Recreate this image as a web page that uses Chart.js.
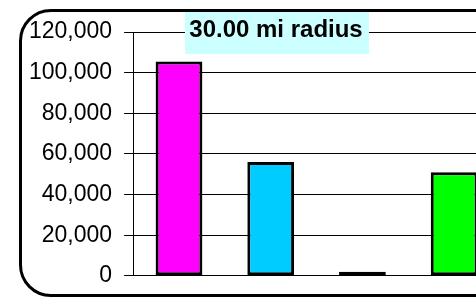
<!DOCTYPE html>
<html>
<head>
<meta charset="utf-8">
<script src="https://cdn.jsdelivr.net/npm/chart.js@4"></script>
<style>
  html, body { margin: 0; padding: 0; width: 476px; height: 297px; overflow: hidden; background: #fff; }
  #wrap { position: absolute; left: 0; top: 0; width: 540px; height: 297px; }
  #frame { position: absolute; left: 19px; top: 9px; width: 600px; height: 282px;
           border: 3px solid #000; border-radius: 32px; pointer-events: none; }
</style>
</head>
<body>
<div id="wrap"><canvas id="radiusChart"></canvas></div>
<div id="frame"></div>
<script>
// datos del grafico
const categories = ['A', 'B', 'C', 'D'];
const values = [105500, 56000, 2000, 51000];
const barColors = ['#ff00ff', '#00ccff', '#000000', '#00ff00'];
const tickValues = [0, 20000, 40000, 60000, 80000, 100000, 120000];
const chartTitle = '30.00 mi radius';

// caja del titulo encima del area
const titleBox = {
    id: 'titleBox',
    afterDraw(chart) {
        const ctx = chart.ctx;
        ctx.save();
        ctx.fillStyle = '#ccffff';
        ctx.fillRect(185, 11, 184, 43);
        ctx.font = 'bold 24px "Liberation Sans", Arial, sans-serif';
        ctx.fillStyle = '#000';
        ctx.textAlign = 'center';
        ctx.textBaseline = 'alphabetic';
        ctx.fillText(chartTitle, 276, 37);
        ctx.restore();
    }
};

new Chart(document.getElementById('radiusChart'), {
    type: 'bar',
    data: {
        labels: categories,
        datasets: [{
            data: values,
            backgroundColor: barColors,
            borderColor: '#000',
            borderWidth: 3,
            borderSkipped: false,
            categoryPercentage: 1,
            barPercentage: 0.51
        }]
    },
    options: {
        responsive: true,
        maintainAspectRatio: false,
        animation: false,
        layout: { padding: { left: 17, right: 40, top: 32, bottom: 8 } },
        plugins: {
            legend: { display: false },
            tooltip: { enabled: false },
            title: { display: false }
        },
        scales: {
            x: { display: false },
            y: {
                min: 0,
                max: 120000,
                afterBuildTicks(axis) {
                    axis.ticks = tickValues.map(v => ({ value: v }));
                },
                ticks: {
                    color: '#000',
                    padding: 12,
                    font: { family: '"Liberation Sans", Arial, sans-serif', size: 23, lineHeight: 0.8 },
                    callback: v => v.toLocaleString('en-US')
                },
                grid: { color: '#000', lineWidth: 1, tickLength: 9 },
                border: { display: true, color: '#000', width: 1 }
            }
        }
    },
    plugins: [titleBox]
});
</script>
</body>
</html>
